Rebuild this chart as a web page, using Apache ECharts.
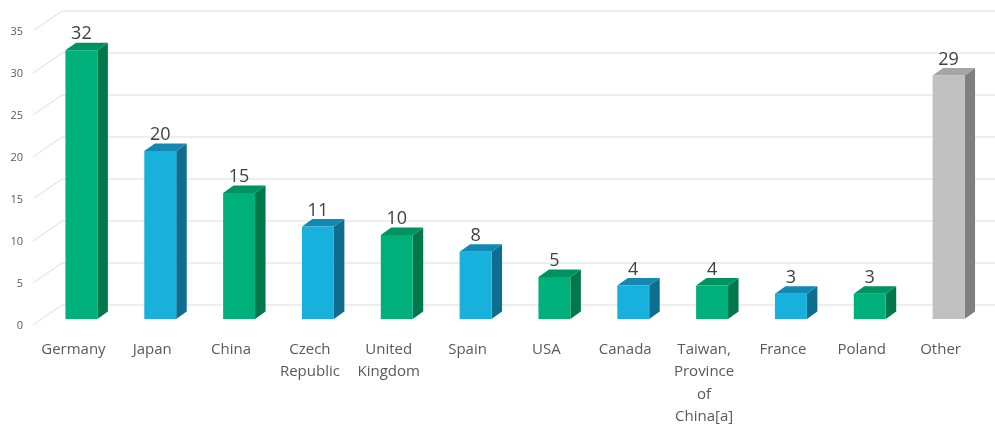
<!DOCTYPE html>
<html>
<head>
<meta charset="utf-8">
<script src="https://cdn.jsdelivr.net/npm/echarts@6/dist/echarts.min.js"></script>
<style>html,body{margin:0;padding:0;background:#fff}#c{width:995px;height:429px}</style>
</head>
<body>
<div id="c"></div>
<script>
const categories = ['Germany', 'Japan', 'China', 'Czech\nRepublic', 'United\nKingdom', 'Spain', 'USA', 'Canada', 'Taiwan,\nProvince\nof\nChina[a]', 'France', 'Poland', 'Other'];
const values = [32, 20, 15, 11, 10, 8, 5, 4, 4, 3, 3, 29];
const yTicks = [0, 5, 10, 15, 20, 25, 30, 35];

const palette = {
  green: { front: '#00b07a', top: '#00935f', side: '#00784c' },
  blue:  { front: '#18b1dd', top: '#1388b2', side: '#0f6e8e' },
  gray:  { front: '#c0c0c0', top: '#a5a5a5', side: '#7f7f7f' }
};
const DX = 10.5, DY = 7.5;          // bar depth offset
const WDX = 20, WDY = 14;           // back wall offset from bar plane
const FDX = 9, FDY = 6;             // front edge offset from bar plane
const FONT = '"Open Sans", "Noto Sans", sans-serif';

const chart = echarts.init(document.getElementById('c'));
chart.setOption({
  animation: false,
  grid: { left: 42, right: 7, top: 25, bottom: 110 },
  xAxis: {
    type: 'category',
    data: categories,
    axisLine: { show: false },
    axisTick: { show: false },
    axisLabel: {
      interval: 0, margin: 19, color: '#595959', fontSize: 15, lineHeight: 22.5,
      fontFamily: FONT, padding: [0, 16, 0, 0]
    }
  },
  yAxis: {
    type: 'value', min: 0, max: 35, interval: 5,
    axisLine: { show: false }, axisTick: { show: false }, splitLine: { show: false },
    axisLabel: { show: false }
  },
  series: [
    {
      type: 'custom',
      silent: true,
      z: 1,
      data: yTicks.map(v => [0, v]),
      encode: { x: 0, y: 1 },
      clip: false,
      renderItem(params, api) {
        const v = api.value(1);
        const y = api.coord([0, v])[1];
        const cs = params.coordSys;
        return {
          type: 'group',
          children: [
            {
              type: 'polyline',
              shape: { points: [[cs.x - FDX, y + FDY], [cs.x + WDX, y - WDY], [cs.x + cs.width + WDX, y - WDY]] },
              style: { stroke: '#dcdcdc', lineWidth: 1, fill: null }
            },
            {
              type: 'text',
              style: { x: cs.x - 19, y: y + FDY + 1, text: String(v), fill: '#595959', fontSize: 11, fontFamily: FONT, align: 'right', verticalAlign: 'middle' }
            }
          ]
        };
      }
    },
    {
      type: 'custom',
      z: 2,
      clip: false,
      data: categories.map((c, i) => [i, values[i]]),
      encode: { x: 0, y: 1 },
      renderItem(params, api) {
        const idx = api.value(0);
        const v = api.value(1);
        const top = api.coord([idx, v]);
        const base = api.coord([idx, 0]);
        const bw = api.size([1, 0])[0] * 0.405;
        const x0 = top[0] - bw / 2, x1 = top[0] + bw / 2;
        const ty = top[1], by = base[1];
        const p = categories[idx] === 'Other' ? palette.gray : (idx % 2 === 0 ? palette.green : palette.blue);
        return {
          type: 'group',
          children: [
            { type: 'polygon', shape: { points: [[x1, ty], [x1 + DX, ty - DY], [x1 + DX, by - DY], [x1, by]] }, style: { fill: p.side } },
            { type: 'polygon', shape: { points: [[x0, ty], [x1, ty], [x1 + DX, ty - DY], [x0 + DX, ty - DY]] }, style: { fill: p.top } },
            { type: 'rect', shape: { x: x0, y: ty, width: bw, height: by - ty }, style: { fill: p.front } },
            { type: 'text', style: { x: top[0], y: ty - 16, text: String(v), fill: '#404040', fontSize: 18, fontFamily: FONT, align: 'center', verticalAlign: 'middle' } }
          ]
        };
      }
    }
  ]
});
</script>
</body>
</html>
